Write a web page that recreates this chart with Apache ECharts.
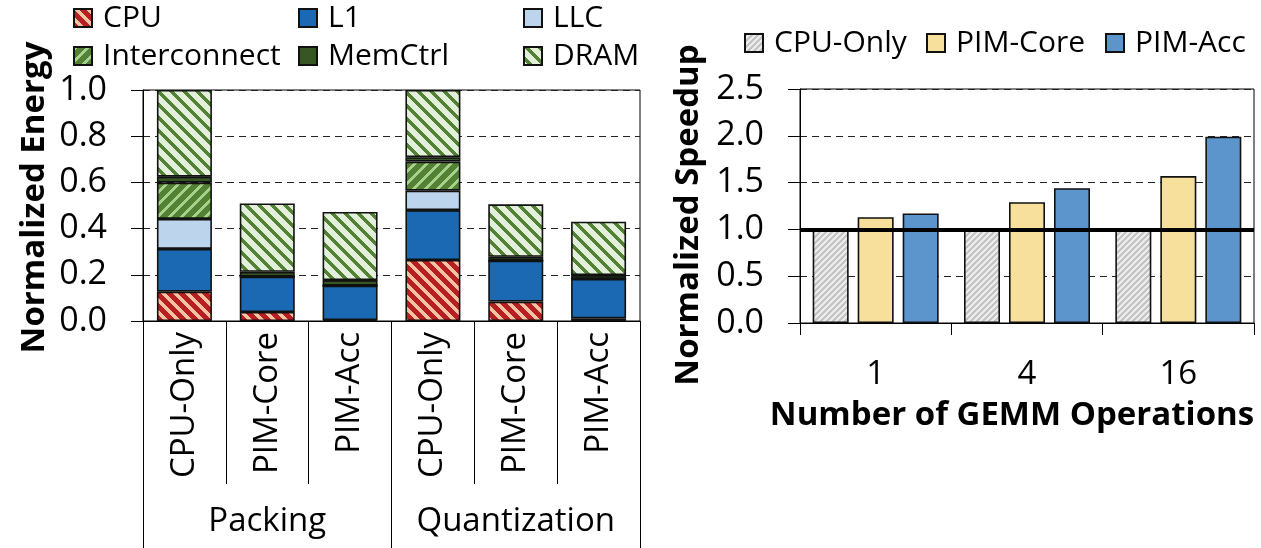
<!DOCTYPE html>
<html><head><meta charset="utf-8">
<script src="https://cdn.jsdelivr.net/npm/echarts@6/dist/echarts.min.js"></script>
<style>html,body{margin:0;padding:0;background:#fff}#c{width:1261px;height:548px}</style>
</head><body><div id="c"></div>
<script>
// ---- data ----
const energyCats = ['CPU-Only','PIM-Core','PIM-Acc','CPU-Only','PIM-Core','PIM-Acc'];
const energyGroups = ['Packing','Quantization'];
const cpuE   = [0.127, 0.039, 0.004, 0.264, 0.084, 0.012];
const l1E    = [0.185, 0.153, 0.149, 0.216, 0.177, 0.170];
const llcE   = [0.130, 0, 0, 0.084, 0, 0];
const icE    = [0.157, 0, 0, 0.126, 0, 0];
const mcE    = [0.026, 0.021, 0.024, 0.019, 0.017, 0.017];
const dramE  = [0.375, 0.296, 0.295, 0.291, 0.227, 0.231];
const energyTicks = [0, 0.2, 0.4, 0.6, 0.8, 1.0];

const gemmCats = ['1','4','16'];
const cpuOnlyS = [1.0, 1.0, 1.0];
const pimCoreS = [1.13, 1.29, 1.57];
const pimAccS  = [1.17, 1.44, 1.99];
const speedTicks = [0, 0.5, 1.0, 1.5, 2.0, 2.5];

// ---- patterns ----
function stripes(bg, fg, p, w, dir) {
  const c = document.createElement('canvas'); c.width = p; c.height = p;
  const ctx = c.getContext('2d');
  ctx.fillStyle = bg; ctx.fillRect(0,0,p,p);
  ctx.fillStyle = fg;
  for (let y=0;y<p;y++) for (let x=0;x<p;x++) {
    const d = dir > 0 ? (x + y) : (x - y + p);
    if ((d % p) < w) ctx.fillRect(x,y,1,1);
  }
  return {image: c, repeat: 'repeat'};
}
const pCPU  = stripes('#b81f25', '#f6c3a0', 12, 5, -1);
const pIC   = stripes('#548235', '#a9d18e', 12, 4, 1);
const pDRAM = stripes('#e2efda', '#548235', 13, 5, -1);
const pGray = stripes('#ececec', '#c4c4c4', 6, 3, 1);

const FONT = "'Open Sans', sans-serif";
const border = {borderColor: '#111', borderWidth: 1.6};
const fmt = v => v.toFixed(1);

function legend(left, top, names) {
  return {left, top, orient: 'vertical', padding: 0, itemGap: 8, itemWidth: 18, itemHeight: 18,
    icon: 'rect', data: names, selectedMode: false,
    textStyle: {fontFamily: FONT, fontSize: 30, color: '#000', lineHeight: 30, padding: [0,0,0,6]}};
}

const chart = echarts.init(document.getElementById('c'), null, {renderer: 'canvas'});
chart.setOption({
  animation: false,
  legend: [
    legend(73, 3, ['CPU','Interconnect']),
    legend(298, 3, ['L1','MemCtrl']),
    legend(523, 3, ['LLC','DRAM']),
    legend(744, 28, ['CPU-Only']),
    legend(926, 28, ['PIM-Core']),
    legend(1105, 28, ['PIM-Acc'])
  ],
  grid: [
    {left: 143, right: 621, top: 90, bottom: 227, show: true, borderColor: '#000', borderWidth: 1, containLabel: false},
    {left: 800, right: 7, top: 89, bottom: 225, show: true, borderColor: '#000', borderWidth: 1, containLabel: false}
  ],
  xAxis: [
    {gridIndex: 0, type: 'category', data: energyCats, position: 'bottom',
      axisLine: {show: true, lineStyle: {color: '#000', width: 1}},
      axisTick: {show: true, length: 163, interval: 0, alignWithLabel: false, lineStyle: {color: '#000'}},
      axisLabel: {rotate: 90, margin: 11, interval: 0, fontFamily: FONT, fontSize: 33, color: '#000'}},
    {gridIndex: 0, type: 'category', data: energyGroups, position: 'bottom',
      axisLine: {show: false},
      axisTick: {show: true, length: 227, interval: 0, alignWithLabel: false, lineStyle: {color: '#000'}},
      axisLabel: {margin: 184, interval: 0, fontFamily: FONT, fontSize: 33, color: '#000'}},
    {gridIndex: 1, type: 'category', data: gemmCats, position: 'bottom',
      axisLine: {show: true, lineStyle: {color: '#000', width: 1}},
      axisTick: {show: true, length: 12, interval: 0, alignWithLabel: false, lineStyle: {color: '#000'}},
      axisLabel: {margin: 35, interval: 0, fontFamily: FONT, fontSize: 33, color: '#000'},
      name: 'Number of GEMM Operations', nameLocation: 'middle', nameGap: 76,
      nameTextStyle: {fontFamily: FONT, fontSize: 33, fontWeight: 'bold', color: '#000', padding: [0, 30, 0, 0]}}
  ],
  yAxis: [
    {gridIndex: 0, type: 'value', min: energyTicks[0], max: energyTicks[energyTicks.length-1], interval: 0.2,
      axisLine: {show: true, lineStyle: {color: '#000'}},
      axisTick: {show: true, length: 12, lineStyle: {color: '#000'}},
      axisLabel: {margin: 36, formatter: fmt, fontFamily: FONT, fontSize: 34, color: '#000'},
      splitLine: {show: true, lineStyle: {color: '#222', type: [7,5], width: 1}},
      name: 'Normalized Energy', nameLocation: 'middle', nameGap: 92,
      nameTextStyle: {fontFamily: FONT, fontSize: 33, fontWeight: 'bold', color: '#000', padding: [0, 0, 0, 16]}},
    {gridIndex: 1, type: 'value', min: speedTicks[0], max: speedTicks[speedTicks.length-1], interval: 0.5,
      axisLine: {show: true, lineStyle: {color: '#000'}},
      axisTick: {show: true, length: 12, lineStyle: {color: '#000'}},
      axisLabel: {margin: 36, formatter: fmt, fontFamily: FONT, fontSize: 34, color: '#000'},
      splitLine: {show: true, lineStyle: {color: '#222', type: [7,5], width: 1}},
      name: 'Normalized Speedup', nameLocation: 'middle', nameGap: 95,
      nameTextStyle: {fontFamily: FONT, fontSize: 33, fontWeight: 'bold', color: '#000', padding: [0, 18, 0, 0]}}
  ],
  series: [
    {name: 'CPU', type: 'bar', stack: 'e', xAxisIndex: 0, yAxisIndex: 0, barWidth: 55, data: cpuE, itemStyle: Object.assign({color: pCPU}, border)},
    {name: 'L1', type: 'bar', stack: 'e', xAxisIndex: 0, yAxisIndex: 0, barWidth: 55, data: l1E, itemStyle: Object.assign({color: '#1b69b3'}, border)},
    {name: 'LLC', type: 'bar', stack: 'e', xAxisIndex: 0, yAxisIndex: 0, barWidth: 55, data: llcE, itemStyle: Object.assign({color: '#bdd5ec'}, border)},
    {name: 'Interconnect', type: 'bar', stack: 'e', xAxisIndex: 0, yAxisIndex: 0, barWidth: 55, data: icE, itemStyle: Object.assign({color: pIC}, border)},
    {name: 'MemCtrl', type: 'bar', stack: 'e', xAxisIndex: 0, yAxisIndex: 0, barWidth: 55, data: mcE, itemStyle: Object.assign({color: '#375623'}, border)},
    {name: 'DRAM', type: 'bar', stack: 'e', xAxisIndex: 0, yAxisIndex: 0, barWidth: 55, data: dramE, itemStyle: Object.assign({color: pDRAM}, border)},
    {name: 'CPU-Only', type: 'bar', xAxisIndex: 2, yAxisIndex: 1, barWidth: 36, barGap: '25%', data: cpuOnlyS, itemStyle: Object.assign({color: pGray}, border),
      markLine: {silent: true, symbol: 'none', z: 10, label: {show: false},
        lineStyle: {color: '#000', width: 4, type: 'solid'}, data: [{yAxis: 1}]}},
    {name: 'PIM-Core', type: 'bar', xAxisIndex: 2, yAxisIndex: 1, barWidth: 36, barGap: '25%', data: pimCoreS, itemStyle: Object.assign({color: '#f7e09b'}, border)},
    {name: 'PIM-Acc', type: 'bar', xAxisIndex: 2, yAxisIndex: 1, barWidth: 36, barGap: '25%', data: pimAccS, itemStyle: Object.assign({color: '#5b95cc'}, border)}
  ]
});
</script>
</body></html>
